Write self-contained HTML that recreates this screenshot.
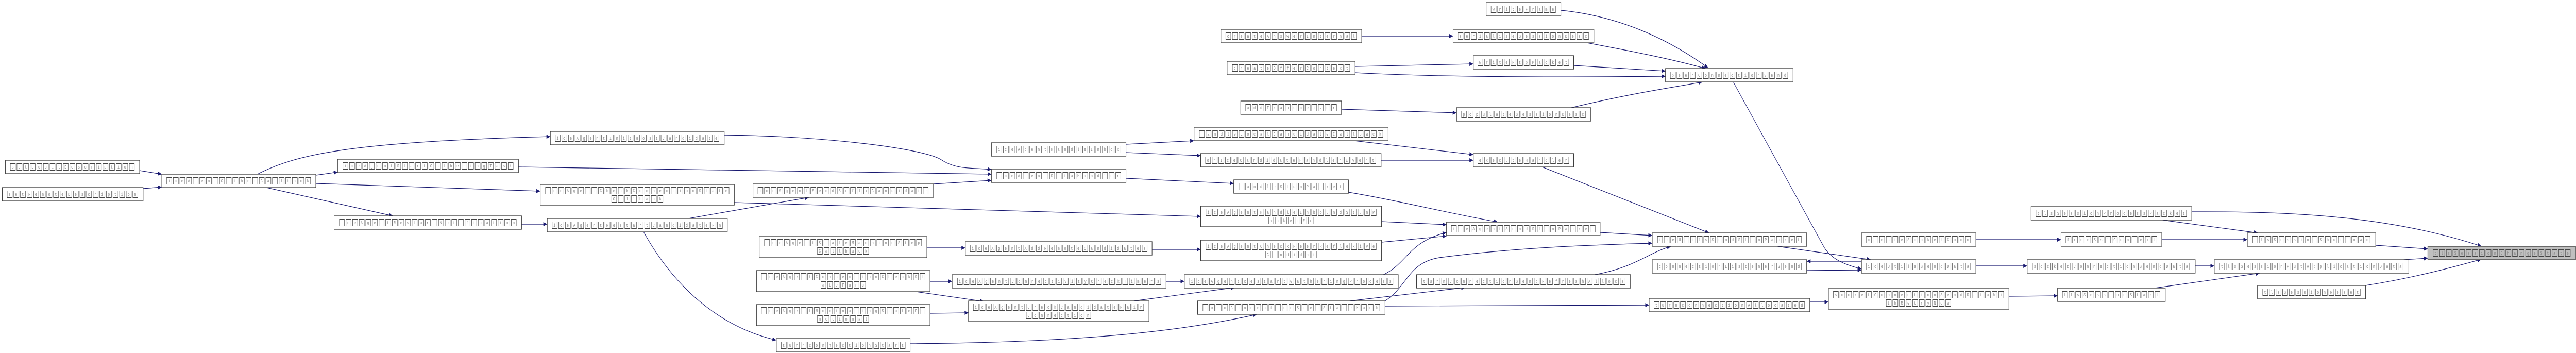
<!DOCTYPE html>
<html><head><meta charset="utf-8"><style>
html,body{margin:0;padding:0;width:100%;height:100%;overflow:hidden;background:#fff}
svg#s{position:fixed;left:0;top:0;width:100vw;height:100vh;display:block}
.b{fill:#fff;stroke:#3a3a3a;stroke-width:1.3}
.gz{fill:#bfbfbf;stroke:#3a3a3a;stroke-width:1.3}
text{font-family:"Liberation Mono",monospace;font-size:9px;letter-spacing:11.6px;fill:#888}
.e path{fill:none;stroke:#191970;stroke-width:1.2}
</style></head><body>
<svg id="s" viewBox="0 0 6623 685" preserveAspectRatio="none" xmlns="http://www.w3.org/2000/svg">
<defs>
<marker id="a" markerWidth="10" markerHeight="8" refX="10" refY="4" orient="auto" markerUnits="userSpaceOnUse"><path d="M0,0L10,4L0,8z" fill="#191970"/></marker>
<pattern id="t" width="17" height="14" patternUnits="userSpaceOnUse"><rect x="0.5" y="0.5" width="13" height="13" fill="none" stroke="#444" stroke-width="1"/></pattern>
</defs>
<rect width="6623" height="685" fill="#fff"/>
<g class="e" marker-end="url(#a)">
<path d="M359,331L416,338"/>
<path d="M368,366L416,363"/>
<path d="M662,338C760,300 900,275 1415,265"/>
<path d="M812,340L868,334"/>
<path d="M812,356L1389,371"/>
<path d="M685,364L1010,419"/>
<path d="M1862,262C2150,265 2380,290 2420,310S2500,325 2549,329"/>
<path d="M1333,324L2549,338"/>
<path d="M1888,393L3087,420"/>
<path d="M1341,435L1407,435"/>
<path d="M1770,424L2080,383"/>
<path d="M1654,449C1750,580 1880,640 1996,660"/>
<path d="M2400,357L2549,350"/>
<path d="M2383,481L2482,481"/>
<path d="M2962,484L3087,484"/>
<path d="M2391,546L2448,546"/>
<path d="M2998,546L3045,546"/>
<path d="M2355,566L2530,585"/>
<path d="M2391,608L2490,607"/>
<path d="M2915,584L3175,558"/>
<path d="M2340,667C2700,665 3000,650 3231,610"/>
<path d="M2895,280L3070,273"/>
<path d="M2895,296L3087,302"/>
<path d="M2895,346L3172,356"/>
<path d="M3501,70L3736,70"/>
<path d="M3484,129L3788,124"/>
<path d="M3484,141C3700,150 4000,150 4282,148"/>
<path d="M3449,212L3745,219"/>
<path d="M4013,20C4150,30 4280,70 4392,132"/>
<path d="M4080,83C4200,100 4300,115 4385,133"/>
<path d="M4046,127L4282,138"/>
<path d="M4040,209C4200,180 4300,170 4377,159"/>
<path d="M3470,272L3788,300"/>
<path d="M3551,311L3788,311"/>
<path d="M3965,324L4394,452"/>
<path d="M3467,373C3600,390 3700,410 3851,431"/>
<path d="M3552,430L3719,436"/>
<path d="M3552,470L3719,458"/>
<path d="M3557,533C3620,510 3620,470 3719,451"/>
<path d="M4114,451L4248,457"/>
<path d="M3561,584C3620,555 3620,510 3700,500C3900,480 4100,475 4248,472"/>
<path d="M3470,584L3767,558"/>
<path d="M3561,594L4240,592"/>
<path d="M4100,533C4200,520 4240,490 4296,478"/>
<path d="M4457,160L4690,480C4710,505 4750,515 4786,522"/>
<path d="M4570,478L4810,504"/>
<path d="M4786,507L4645,507"/>
<path d="M4645,525L4786,524"/>
<path d="M4653,586L4701,586"/>
<path d="M5165,575L5290,574"/>
<path d="M5080,516L5212,516"/>
<path d="M5080,465L5299,465"/>
<path d="M5635,411C5900,410 6150,420 6380,478"/>
<path d="M5560,427L5805,452"/>
<path d="M5558,465L5778,465"/>
<path d="M6108,476L6242,483"/>
<path d="M5644,516L5693,516"/>
<path d="M5540,559L5810,530"/>
<path d="M6180,504L6242,501"/>
<path d="M6082,554C6200,540 6300,520 6380,503"/>
</g>

<g transform="translate(14,311)"><rect class="b" width="345" height="26"/><g transform="translate(12,6)"><rect width="320" height="14" fill="url(#t)"/><text x="4" y="10">setLocalDescription</text></g></g>
<g transform="translate(6,364)"><rect class="b" width="362" height="26"/><g transform="translate(12,6)"><rect width="337" height="14" fill="url(#t)"/><text x="4" y="10">setRemoteDescription</text></g></g>
<g transform="translate(416,338)"><rect class="b" width="396" height="26"/><g transform="translate(12,6)"><rect width="371" height="14" fill="url(#t)"/><text x="4" y="10">iceAgentGatherCallback</text></g></g>
<g transform="translate(868,309)"><rect class="b" width="465" height="26"/><g transform="translate(13,6)"><rect width="439" height="14" fill="url(#t)"/><text x="4" y="10">iceAgentStartGatheringTask</text></g></g>
<g transform="translate(1415,255)"><rect class="b" width="447" height="26"/><g transform="translate(12,6)"><rect width="422" height="14" fill="url(#t)"/><text x="4" y="10">iceAgentInitHostCandidate</text></g></g>
<g transform="translate(859,419)"><rect class="b" width="482" height="26"/><g transform="translate(13,6)"><rect width="456" height="14" fill="url(#t)"/><text x="4" y="10">iceAgentRestartNotification</text></g></g>
<g transform="translate(1389,358)"><rect class="b" width="499" height="40"/><g transform="translate(13,5)"><rect width="473" height="14" fill="url(#t)"/><text x="4" y="10">iceAgentCheckConnectionState</text></g><g transform="translate(183,21)"><rect width="133" height="14" fill="url(#t)"/><text x="4" y="10">Callback</text></g></g>
<g transform="translate(1407,424)"><rect class="b" width="463" height="26"/><g transform="translate(12,6)"><rect width="439" height="14" fill="url(#t)"/><text x="4" y="10">iceAgentRestartCandidateFn</text></g></g>
<g transform="translate(1936,357)"><rect class="b" width="464" height="26"/><g transform="translate(12,6)"><rect width="439" height="14" fill="url(#t)"/><text x="4" y="10">iceAgentSendSrflxCandidate</text></g></g>
<g transform="translate(1952,459)"><rect class="b" width="431" height="41"/><g transform="translate(13,5)"><rect width="405" height="14" fill="url(#t)"/><text x="4" y="10">iceAgentStateMachineStep</text></g><g transform="translate(149,21)"><rect width="133" height="14" fill="url(#t)"/><text x="4" y="10">Callback</text></g></g>
<g transform="translate(1945,525)"><rect class="b" width="446" height="41"/><g transform="translate(12,5)"><rect width="422" height="14" fill="url(#t)"/><text x="4" y="10">iceAgentConnectionCheckSt</text></g><g transform="translate(165,21)"><rect width="116" height="14" fill="url(#t)"/><text x="4" y="10">ateFunc</text></g></g>
<g transform="translate(1945,591)"><rect class="b" width="446" height="41"/><g transform="translate(12,5)"><rect width="422" height="14" fill="url(#t)"/><text x="4" y="10">iceAgentNominatingStateFu</text></g><g transform="translate(156,21)"><rect width="133" height="14" fill="url(#t)"/><text x="4" y="10">nctional</text></g></g>
<g transform="translate(1996,657)"><rect class="b" width="344" height="26"/><g transform="translate(12,6)"><rect width="320" height="14" fill="url(#t)"/><text x="4" y="10">turnConnectionStart</text></g></g>
<g transform="translate(2549,277)"><rect class="b" width="346" height="26"/><g transform="translate(13,6)"><rect width="320" height="14" fill="url(#t)"/><text x="4" y="10">iceAgentHandleInbox</text></g></g>
<g transform="translate(2549,328)"><rect class="b" width="346" height="26"/><g transform="translate(13,6)"><rect width="320" height="14" fill="url(#t)"/><text x="4" y="10">iceAgentDataHandler</text></g></g>
<g transform="translate(2482,469)"><rect class="b" width="480" height="26"/><g transform="translate(12,6)"><rect width="456" height="14" fill="url(#t)"/><text x="4" y="10">iceAgentAddRemoteCandidates</text></g></g>
<g transform="translate(2448,533)"><rect class="b" width="550" height="26"/><g transform="translate(13,6)"><rect width="524" height="14" fill="url(#t)"/><text x="4" y="10">iceAgentConnectivityCheckTimers</text></g></g>
<g transform="translate(2490,584)"><rect class="b" width="464" height="40"/><g transform="translate(12,5)"><rect width="439" height="14" fill="url(#t)"/><text x="4" y="10">iceAgentCheckCandidatePair</text></g><g transform="translate(148,21)"><rect width="167" height="14" fill="url(#t)"/><text x="4" y="10">Connection</text></g></g>
<g transform="translate(3139,57)"><rect class="b" width="362" height="26"/><g transform="translate(12,6)"><rect width="337" height="14" fill="url(#t)"/><text x="4" y="10">createAnswerInternal</text></g></g>
<g transform="translate(3155,119)"><rect class="b" width="329" height="26"/><g transform="translate(13,6)"><rect width="303" height="14" fill="url(#t)"/><text x="4" y="10">createOfferContext</text></g></g>
<g transform="translate(3190,196)"><rect class="b" width="259" height="26"/><g transform="translate(12,6)"><rect width="235" height="14" fill="url(#t)"/><text x="4" y="10">addTransceiver</text></g></g>
<g transform="translate(3070,247)"><rect class="b" width="499" height="26"/><g transform="translate(13,6)"><rect width="473" height="14" fill="url(#t)"/><text x="4" y="10">handleLocalCandidateCallback</text></g></g>
<g transform="translate(3087,298)"><rect class="b" width="464" height="26"/><g transform="translate(12,6)"><rect width="439" height="14" fill="url(#t)"/><text x="4" y="10">onIceCandidateHandlerEvent</text></g></g>
<g transform="translate(3172,349)"><rect class="b" width="295" height="26"/><g transform="translate(13,6)"><rect width="269" height="14" fill="url(#t)"/><text x="4" y="10">handleStunPacket</text></g></g>
<g transform="translate(3087,400)"><rect class="b" width="465" height="40"/><g transform="translate(13,5)"><rect width="439" height="14" fill="url(#t)"/><text x="4" y="10">iceAgentHandleInboundStunP</text></g><g transform="translate(174,21)"><rect width="116" height="14" fill="url(#t)"/><text x="4" y="10">acketEx</text></g></g>
<g transform="translate(3087,466)"><rect class="b" width="465" height="40"/><g transform="translate(13,5)"><rect width="439" height="14" fill="url(#t)"/><text x="4" y="10">iceAgentCheckPeerReflexive</text></g><g transform="translate(166,21)"><rect width="133" height="14" fill="url(#t)"/><text x="4" y="10">Candidat</text></g></g>
<g transform="translate(3045,533)"><rect class="b" width="550" height="26"/><g transform="translate(13,6)"><rect width="524" height="14" fill="url(#t)"/><text x="4" y="10">iceAgentRestartGatheringProcess</text></g></g>
<g transform="translate(3079,584)"><rect class="b" width="482" height="26"/><g transform="translate(13,6)"><rect width="456" height="14" fill="url(#t)"/><text x="4" y="10">turnConnectionStepStateMach</text></g></g>
<g transform="translate(3736,57)"><rect class="b" width="362" height="26"/><g transform="translate(12,6)"><rect width="337" height="14" fill="url(#t)"/><text x="4" y="10">serializeSessionDesc</text></g></g>
<g transform="translate(3821,5)"><rect class="b" width="192" height="26"/><g transform="translate(12,6)"><rect width="167" height="14" fill="url(#t)"/><text x="4" y="10">writeFrame</text></g></g>
<g transform="translate(3788,108)"><rect class="b" width="258" height="26"/><g transform="translate(11,6)"><rect width="235" height="14" fill="url(#t)"/><text x="4" y="10">writeRtpPacket</text></g></g>
<g transform="translate(3745,209)"><rect class="b" width="345" height="26"/><g transform="translate(12,6)"><rect width="320" height="14" fill="url(#t)"/><text x="4" y="10">populateSessionDesc</text></g></g>
<g transform="translate(3788,298)"><rect class="b" width="258" height="26"/><g transform="translate(11,6)"><rect width="235" height="14" fill="url(#t)"/><text x="4" y="10">executeHandler</text></g></g>
<g transform="translate(3719,431)"><rect class="b" width="395" height="26"/><g transform="translate(12,6)"><rect width="371" height="14" fill="url(#t)"/><text x="4" y="10">iceAgentSendStunPacket</text></g></g>
<g transform="translate(3642,533)"><rect class="b" width="550" height="26"/><g transform="translate(13,6)"><rect width="524" height="14" fill="url(#t)"/><text x="4" y="10">turnConnectionSendRefreshAllocs</text></g></g>
<g transform="translate(4282,133)"><rect class="b" width="328" height="26"/><g transform="translate(12,6)"><rect width="303" height="14" fill="url(#t)"/><text x="4" y="10">peerConnectionSend</text></g></g>
<g transform="translate(4248,452)"><rect class="b" width="397" height="26"/><g transform="translate(13,6)"><rect width="371" height="14" fill="url(#t)"/><text x="4" y="10">iceUtilsSendStunPacket</text></g></g>
<g transform="translate(4248,504)"><rect class="b" width="397" height="26"/><g transform="translate(13,6)"><rect width="371" height="14" fill="url(#t)"/><text x="4" y="10">connectionListenerSend</text></g></g>
<g transform="translate(4240,579)"><rect class="b" width="413" height="26"/><g transform="translate(12,6)"><rect width="388" height="14" fill="url(#t)"/><text x="4" y="10">turnConnectionAllocated</text></g></g>
<g transform="translate(4786,504)"><rect class="b" width="294" height="26"/><g transform="translate(12,6)"><rect width="269" height="14" fill="url(#t)"/><text x="4" y="10">iceUtilsSendData</text></g></g>
<g transform="translate(4786,452)"><rect class="b" width="294" height="26"/><g transform="translate(12,6)"><rect width="269" height="14" fill="url(#t)"/><text x="4" y="10">createSocketConn</text></g></g>
<g transform="translate(4701,560)"><rect class="b" width="464" height="40"/><g transform="translate(12,5)"><rect width="439" height="14" fill="url(#t)"/><text x="4" y="10">socketConnectionSendDataWi</text></g><g transform="translate(148,21)"><rect width="167" height="14" fill="url(#t)"/><text x="4" y="10">thRetryNow</text></g></g>
<g transform="translate(5212,504)"><rect class="b" width="432" height="26"/><g transform="translate(13,6)"><rect width="405" height="14" fill="url(#t)"/><text x="4" y="10">socketConnectionSendData</text></g></g>
<g transform="translate(5299,452)"><rect class="b" width="259" height="26"/><g transform="translate(12,6)"><rect width="235" height="14" fill="url(#t)"/><text x="4" y="10">freeSslContext</text></g></g>
<g transform="translate(5222,401)"><rect class="b" width="413" height="26"/><g transform="translate(12,6)"><rect width="388" height="14" fill="url(#t)"/><text x="4" y="10">tlsSessionProcessPacket</text></g></g>
<g transform="translate(5290,559)"><rect class="b" width="277" height="26"/><g transform="translate(12,6)"><rect width="252" height="14" fill="url(#t)"/><text x="4" y="10">tlsSessionStart</text></g></g>
<g transform="translate(5778,452)"><rect class="b" width="330" height="26"/><g transform="translate(13,6)"><rect width="303" height="14" fill="url(#t)"/><text x="4" y="10">tlsSessionShutdown</text></g></g>
<g transform="translate(5693,504)"><rect class="b" width="500" height="26"/><g transform="translate(13,6)"><rect width="473" height="14" fill="url(#t)"/><text x="4" y="10">tlsSessionPutApplicationData</text></g></g>
<g transform="translate(5804,554)"><rect class="b" width="278" height="26"/><g transform="translate(13,6)"><rect width="252" height="14" fill="url(#t)"/><text x="4" y="10">tlsSessionReset</text></g></g>
<g transform="translate(6242,478)"><rect class="gz" width="380" height="26"/><g transform="translate(13,6)"><rect width="354" height="14" fill="url(#t)"/><text x="4" y="10">tlsSessionChangeState</text></g></g>
</svg>
</body></html>
